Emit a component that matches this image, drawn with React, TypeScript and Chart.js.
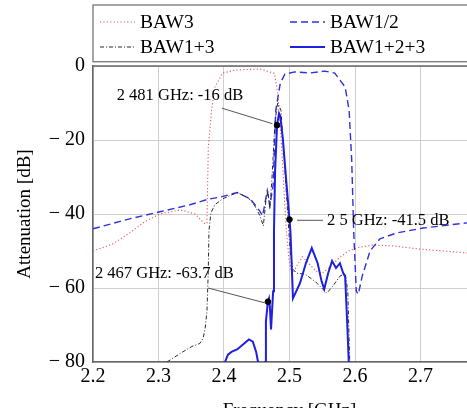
import React, { useEffect, useRef } from "react";
import { Chart, registerables } from "chart.js";
Chart.register(...registerables);

const FONT = "'Liberation Serif', 'DejaVu Serif', 'Times New Roman', serif";

// Tick values
const xTicks = [2.2, 2.3, 2.4, 2.5, 2.6, 2.7, 2.8];
const yTicks = [-80, -60, -40, -20, 0];

// BAW3 (red dotted)
const baw3Freq = [2.2, 2.23, 2.256, 2.279, 2.302, 2.333, 2.356, 2.363, 2.371, 2.374, 2.376, 2.381, 2.386, 2.398, 2.417, 2.455, 2.477, 2.482, 2.486, 2.489, 2.491, 2.495, 2.499, 2.504, 2.511, 2.52, 2.529, 2.54, 2.55, 2.56, 2.575, 2.59, 2.606, 2.628, 2.656, 2.7, 2.77, 2.8];
const baw3Db = [-50, -48.1, -45.1, -42.1, -40, -38.9, -40, -41.3, -42.7, -42.4, -22, -12, -5.7, -1.9, -1.1, -0.8, -2, -7.3, -16.6, -24.7, -32, -44, -52, -56.5, -54, -51.6, -53.3, -55.4, -56, -54.6, -52, -50, -49, -48.4, -48.6, -49.5, -50.5, -51];

// BAW1/2 (blue dashed)
const baw12Freq = [2.2, 2.256, 2.302, 2.348, 2.374, 2.397, 2.42, 2.44, 2.452, 2.459, 2.466, 2.47, 2.475, 2.479, 2.486, 2.493, 2.508, 2.531, 2.554, 2.569, 2.585, 2.591, 2.595, 2.598, 2.602, 2.605, 2.611, 2.623, 2.638, 2.664, 2.704, 2.771, 2.8];
const baw12Db = [-44, -41.3, -39.4, -37.5, -36.1, -35.3, -34.2, -35.9, -38.5, -40.5, -33.7, -37.8, -32.3, -12, -4.6, -2.2, -1.6, -1.9, -1.4, -1.9, -5.7, -12, -25.5, -44.6, -60.9, -61.7, -56.8, -50, -46.7, -45.1, -43.8, -42.4, -41.8];

// BAW1+3 (black dash-dot)
const baw13Freq = [2.313, 2.333, 2.351, 2.363, 2.368, 2.371, 2.374, 2.376, 2.377, 2.38, 2.386, 2.398, 2.42, 2.437, 2.447, 2.455, 2.46, 2.464, 2.467, 2.47, 2.473, 2.478, 2.482, 2.487, 2.491, 2.496, 2.501, 2.505, 2.511, 2.524, 2.539, 2.557, 2.566, 2.577, 2.585, 2.589, 2.592];
const baw13Db = [-80, -77.7, -75.8, -75, -73.6, -71.2, -66.3, -55.4, -44.6, -39.7, -37.5, -35.9, -34.2, -35.6, -37.8, -40.5, -43.2, -36.4, -33.7, -38.6, -31, -14.7, -10, -12, -22.8, -36.4, -50, -54.9, -56, -56.3, -58.2, -61.4, -59.5, -56.8, -56, -60.9, -80];

// BAW1+2+3 (blue solid)
const baw123Freq = [2.4015, 2.406, 2.412, 2.42, 2.429, 2.438, 2.444, 2.449, 2.452, 2.456, 2.461, 2.4626, 2.464, 2.467, 2.4687, 2.47, 2.4718, 2.475, 2.4763, 2.478, 2.481, 2.484, 2.486, 2.49, 2.495, 2.5, 2.5015, 2.5053, 2.516, 2.525, 2.534, 2.543, 2.549, 2.553, 2.559, 2.565, 2.571, 2.577, 2.582, 2.585, 2.588, 2.5905, 2.592];
const baw123Db = [-80, -78, -77.2, -76.6, -75.3, -73.9, -74.5, -77.2, -80, -86, -86, -80, -69, -63.7, -62.8, -65, -71.2, -60.9, -44.6, -28.3, -16, -12.8, -13.6, -20, -31, -41.5, -45, -62.8, -58.7, -53.3, -49.2, -53.3, -58.2, -60.3, -56, -52.7, -54.6, -53.3, -56, -57, -69, -80, -88];

// Marked points and their labels
const markerFreq = [2.467, 2.481, 2.5];
const markerDb = [-63.7, -16, -41.5];
const labelTexts = ["2 467 GHz: -63.7 dB", "2 481 GHz: -16 dB", "2 5 GHz: -41.5 dB"];
const labelFreq = [2.309, 2.3328, 2.5573];
const labelDb = [-56.0, -7.9, -41.8];
const labelAlign: CanvasTextAlign[] = ["center", "center", "left"];
const leaderFromFreq = [2.3756, 2.3969, 2.5115];
const leaderFromDb = [-60.0, -11.4, -41.7];
const leaderToFreq = [2.462, 2.474, 2.5511];
const leaderToDb = [-64.0, -15.6, -41.7];

const toXY = (f: number[], d: number[]) => f.map((x, i) => ({ x, y: d[i] }));

const annotationPlugin = {
  id: "annotations",
  afterDatasetsDraw(chart: any) {
    const { ctx, scales, chartArea } = chart;
    const xs = scales.x, ys = scales.y;
    ctx.save();
    // top border of frame
    ctx.strokeStyle = "#666";
    ctx.lineWidth = 1.5;
    ctx.beginPath();
    ctx.moveTo(chartArea.left, chartArea.top);
    ctx.lineTo(chartArea.right, chartArea.top);
    ctx.lineTo(chartArea.right, chartArea.bottom);
    ctx.stroke();
    // leader lines
    ctx.strokeStyle = "#555";
    ctx.lineWidth = 1;
    for (let i = 0; i < labelTexts.length; i++) {
      ctx.beginPath();
      ctx.moveTo(xs.getPixelForValue(leaderFromFreq[i]), ys.getPixelForValue(leaderFromDb[i]));
      ctx.lineTo(xs.getPixelForValue(leaderToFreq[i]), ys.getPixelForValue(leaderToDb[i]));
      ctx.stroke();
    }
    ctx.fillStyle = "#000";
    ctx.font = `16.5px ${FONT}`;
    ctx.textBaseline = "middle";
    for (let i = 0; i < labelTexts.length; i++) {
      ctx.textAlign = labelAlign[i];
      ctx.fillText(labelTexts[i], xs.getPixelForValue(labelFreq[i]), ys.getPixelForValue(labelDb[i]));
    }
    ctx.restore();
  },
};

const legendPlugin = {
  id: "boxLegend",
  afterDraw(chart: any) {
    const { ctx, chartArea } = chart;
    const left = chartArea.left;
    const top = 5, bottom = 61.7;
    ctx.save();
    ctx.fillStyle = "#fff";
    ctx.fillRect(left, top, chartArea.right - left, bottom - top);
    ctx.strokeStyle = "#777";
    ctx.lineWidth = 1.3;
    ctx.strokeRect(left, top, chartArea.right - left, bottom - top);
    const entries = [
      { ds: 4, col: 0, row: 0 },
      { ds: 3, col: 1, row: 0 },
      { ds: 2, col: 0, row: 1 },
      { ds: 1, col: 1, row: 1 },
    ];
    ctx.font = `19.5px ${FONT}`;
    ctx.textBaseline = "middle";
    ctx.textAlign = "left";
    for (const e of entries) {
      const ds = chart.data.datasets[e.ds];
      const x0 = left + (e.col === 0 ? 7 : 197);
      const y = e.row === 0 ? 22 : 47;
      ctx.strokeStyle = ds.borderColor;
      ctx.lineWidth = ds.borderWidth;
      ctx.setLineDash(ds.borderDash || []);
      ctx.beginPath();
      ctx.moveTo(x0, y);
      ctx.lineTo(x0 + 35, y);
      ctx.stroke();
      ctx.setLineDash([]);
      ctx.fillStyle = "#000";
      ctx.fillText(ds.label, x0 + 40, y + 1);
    }
    ctx.restore();
  },
};

export default function App() {
  const ref = useRef<HTMLCanvasElement | null>(null);
  useEffect(() => {
    document.body.style.overflow = "hidden";
    document.documentElement.style.overflow = "hidden";
    const canvas = ref.current!;
    const setTicks = (vals: number[]) => (s: any) => {
      s.ticks = vals.map((v) => ({ value: v }));
    };
    const chart = new Chart(canvas, {
      type: "line",
      data: {
        datasets: [
          {
            label: "markers",
            data: toXY(markerFreq, markerDb),
            showLine: false,
            pointRadius: 2.8,
            pointBackgroundColor: "#000",
            pointBorderColor: "#000",
            borderColor: "#000",
            order: 0,
          } as any,
          {
            label: "BAW1+2+3",
            data: toXY(baw123Freq, baw123Db),
            borderColor: "#1f1fe0",
            borderWidth: 2,
            pointRadius: 0,
            order: 1,
          },
          {
            label: "BAW1+3",
            data: toXY(baw13Freq, baw13Db),
            borderColor: "#2a2a2a",
            borderWidth: 1,
            borderDash: [4, 2, 1, 2],
            pointRadius: 0,
            order: 2,
          },
          {
            label: "BAW1/2",
            data: toXY(baw12Freq, baw12Db),
            borderColor: "#3030dd",
            borderWidth: 1.4,
            borderDash: [7, 4],
            pointRadius: 0,
            order: 3,
          },
          {
            label: "BAW3",
            data: toXY(baw3Freq, baw3Db),
            borderColor: "#e25a5a",
            borderWidth: 1.1,
            borderDash: [1.2, 2.2],
            pointRadius: 0,
            order: 4,
          },
        ],
      },
      options: {
        responsive: false,
        animation: false,
        layout: { padding: { top: 66, left: 0, right: 34, bottom: 0 } },
        plugins: { legend: { display: false }, tooltip: { enabled: false } },
        scales: {
          x: {
            type: "linear",
            min: 2.2,
            max: 2.8,
            afterBuildTicks: setTicks(xTicks),
            afterFit: (s: any) => {
              s.height = 68;
            },
            ticks: {
              callback: (v: any) => Number(v).toFixed(1),
              font: { family: FONT, size: 20 },
              color: "#000",
              padding: 3,
              maxRotation: 0,
              autoSkip: false,
            },
            grid: { color: "#cfcfcf", drawTicks: false, lineWidth: 1 },
            border: { color: "#666", width: 1.5 },
            title: {
              display: true,
              text: "Frequency [GHz]",
              font: { family: FONT, size: 19 },
              color: "#000",
              padding: { top: 0, bottom: 7.6 },
            },
          },
          y: {
            type: "linear",
            min: -80,
            max: 0,
            afterBuildTicks: setTicks(yTicks),
            afterFit: (s: any) => {
              s.width = 93;
            },
            ticks: {
              callback: (v: any) => (Number(v) < 0 ? `− ${-Number(v)}` : `${v}`),
              font: { family: FONT, size: 20 },
              color: "#000",
              padding: 8,
            },
            grid: { color: "#cfcfcf", drawTicks: false, lineWidth: 1 },
            border: { color: "#666", width: 1.5 },
            title: {
              display: true,
              text: "Attenuation [dB]",
              font: { family: FONT, size: 19 },
              color: "#000",
              padding: { top: 13.6, bottom: 0 },
            },
          },
        },
      } as any,
      plugins: [annotationPlugin, legendPlugin],
    });
    return () => chart.destroy();
  }, []);
  return (
    <canvas
      ref={ref}
      width={520}
      height={430}
      style={{ position: "absolute", left: 0, top: 0, width: 520, height: 430 }}
    />
  );
}
